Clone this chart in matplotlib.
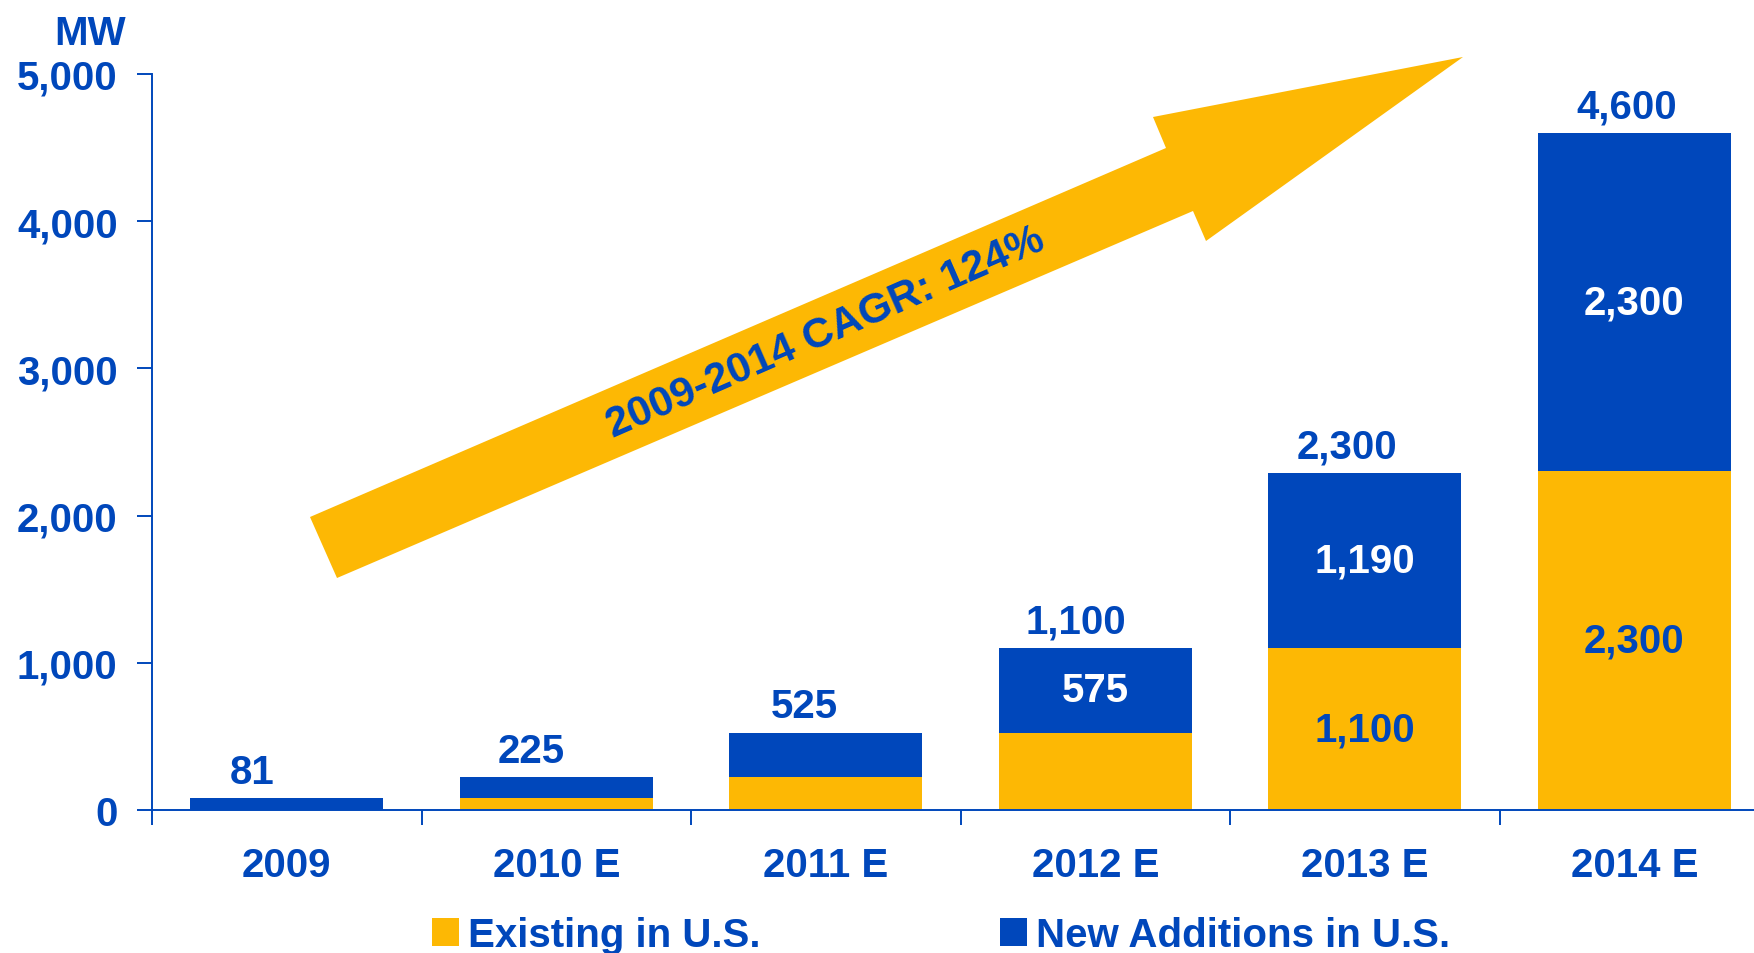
import matplotlib
matplotlib.use("Agg")
import matplotlib.pyplot as plt
from matplotlib.patches import Polygon
from matplotlib.ticker import FuncFormatter, FixedLocator

# ---- data ----
categories = ['2009', '2010 E', '2011 E', '2012 E', '2013 E', '2014 E']
existing = [0, 81, 225, 525, 1100, 2300]
new_additions = [81, 144, 300, 575, 1190, 2300]
total_labels = ['81', '225', '525', '1,100', '2,300', '4,600']
existing_labels = ['', '', '', '', '1,100', '2,300']
new_labels = ['', '', '', '575', '1,190', '2,300']
yticks = [0, 1000, 2000, 3000, 4000, 5000]
legend_labels = ['Existing in U.S.', 'New Additions in U.S.']
cagr_text = '2009-2014 CAGR: 124%'

# ---- style ----
BLUE = '#0047BB'
YELLOW = '#FDB804'
FONT = 'Liberation Sans'
FS = 29
W, H = 1754, 954
plt.rcParams['font.family'] = [FONT, 'DejaVu Sans']
plt.rcParams['font.weight'] = 'bold'

fig = plt.figure(figsize=(W / 100, H / 100), dpi=100)
ax = fig.add_axes([152 / W, 1 - 811 / H, 1 - 152 / W, (811 - 75) / H])

x = list(range(len(categories)))
b1 = ax.bar(x, existing, width=0.715, color=YELLOW, label=legend_labels[0], zorder=2)
b2 = ax.bar(x, new_additions, width=0.715, bottom=existing, color=BLUE,
            label=legend_labels[1], zorder=2)

ax.set_xlim(-0.5, 5.444)
ax.set_ylim(0, 5000)

# spines
for s in ['top', 'right']:
    ax.spines[s].set_visible(False)
for s in ['left', 'bottom']:
    ax.spines[s].set_color(BLUE)
    ax.spines[s].set_linewidth(1.4)

# y ticks
ax.set_yticks(yticks)
ax.yaxis.set_major_formatter(FuncFormatter(lambda v, p: f'{int(v):,}'))
ax.tick_params(axis='y', direction='out', length=10.8, width=1.4, color=BLUE,
               labelcolor=BLUE, labelsize=FS, pad=14)

# x ticks: labels at centres, tick marks at boundaries
ax.set_xticks(x)
ax.set_xticklabels(categories)
ax.xaxis.set_minor_locator(FixedLocator([i - 0.5 for i in range(len(categories) + 1)]))
ax.tick_params(axis='x', which='major', length=0, labelcolor=BLUE, labelsize=FS, pad=26)
ax.tick_params(axis='x', which='minor', direction='out', length=10.8, width=1.4, color=BLUE)
for lab in ax.get_xticklabels() + ax.get_yticklabels():
    lab.set_fontweight('bold')

# total labels above bars
label_dx_px = [-35, -25, -21, -19, -18, -8]
for i, (e, n, t) in enumerate(zip(existing, new_additions, total_labels)):
    ax.annotate(t, (i, e + n), xytext=(label_dx_px[i] * 0.72, 11),
                textcoords='offset points', ha='center', va='baseline',
                color=BLUE, fontsize=FS, fontweight='bold', clip_on=False)

# inner labels
for i, (e, n, le, ln) in enumerate(zip(existing, new_additions, existing_labels, new_labels)):
    if le:
        ax.text(i, e / 2, le, ha='center', va='center', color=BLUE,
                fontsize=FS, fontweight='bold', zorder=3)
    if ln:
        ax.text(i, e + n / 2, ln, ha='center', va='center', color='white',
                fontsize=FS, fontweight='bold', zorder=3)

# MW unit label
fig.text(90 / W, 1 - 34 / H, 'MW', ha='center', va='center', color=BLUE,
         fontsize=FS, fontweight='bold')

# CAGR arrow (decoration, in figure pixel space)
arrow_px = [(310, 518), (1166, 149), (1153, 118), (1463, 58),
            (1206, 242), (1193, 212), (337, 579)]
arrow_fig = [(px / W, 1 - py / H) for px, py in arrow_px]
poly = Polygon(arrow_fig, closed=True, facecolor=YELLOW, edgecolor='none',
               transform=fig.transFigure, clip_on=False, zorder=1)
ax.add_patch(poly)
ax.text(826 / W, 1 - 333 / H, cagr_text, transform=fig.transFigure,
        rotation=23.6, rotation_mode='anchor', ha='center', va='center',
        color=BLUE, fontsize=30.5, fontweight='bold', zorder=4, clip_on=False)

# legend
leg = fig.legend(handles=[b1, b2], labels=legend_labels, loc='center left',
                 bbox_to_anchor=(432 / W, 1 - 936 / H), ncol=2, frameon=False,
                 fontsize=FS, handlelength=0.67, handleheight=0.72,
                 handletextpad=0.22, columnspacing=5.96, borderpad=0,
                 borderaxespad=0)
for t in leg.get_texts():
    t.set_color(BLUE)
    t.set_fontweight('bold')

fig.savefig('out.png', dpi=100)
